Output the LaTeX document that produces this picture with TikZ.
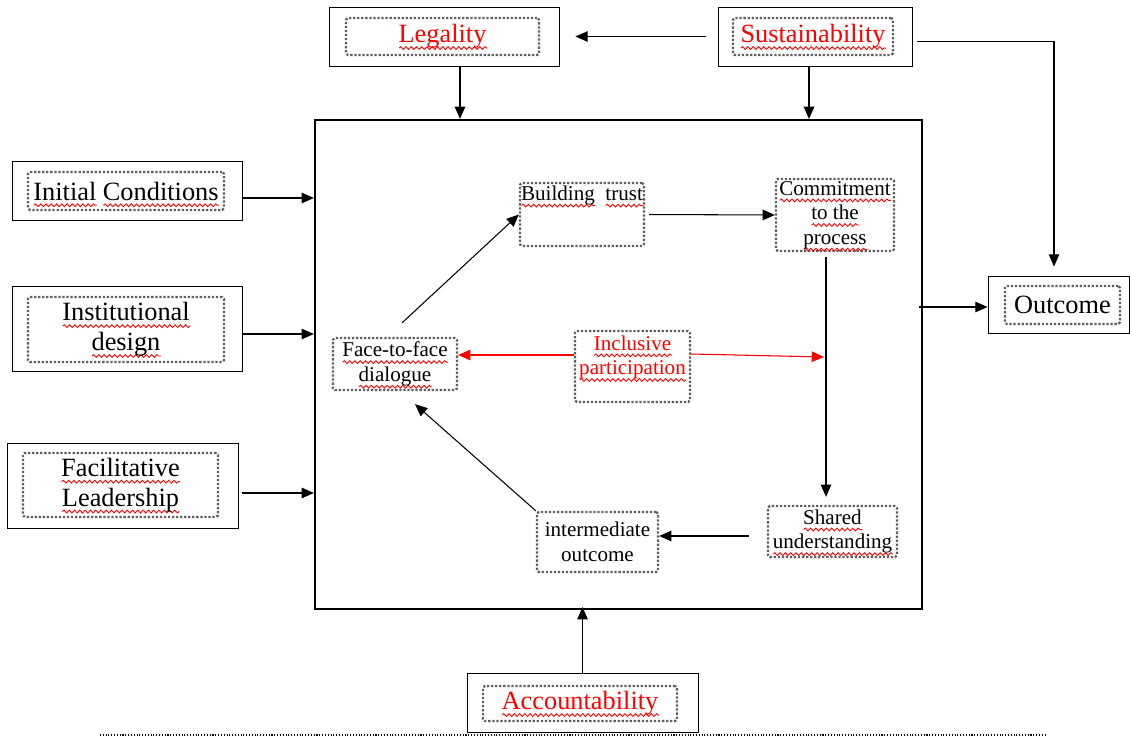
\documentclass[tikz,border=0pt]{standalone}
\usepackage{fontspec}
\setmainfont{Liberation Serif}
\usetikzlibrary{arrows.meta,decorations.pathmorphing}
\newsavebox{\sqbox}
\newlength{\sqlen}
\newcommand{\squig}[1]{\sbox{\sqbox}{#1}\setlength{\sqlen}{\wd\sqbox}%
  \leavevmode\rlap{\smash{\raisebox{-3pt}{\tikz[baseline=0pt,x=1pt,y=1pt]
  \draw[red,solid,sharp corners,line width=0.5pt,decorate,
  decoration={snake,amplitude=0.8pt,segment length=3pt}] (0,0) -- (\sqlen,0);}}}\usebox{\sqbox}}
\definecolor{wd_red}{RGB}{255, 0, 0}
\definecolor{wd_dot}{RGB}{95, 95, 95}
\tikzstyle{ob}=[rectangle,draw=black,line width=0.5pt,inner sep=0pt]
\tikzstyle{ib}=[rectangle,draw=wd_dot,densely dotted,line width=1.3pt,
  rounded corners=1pt,inner sep=0pt,align=center,font=\fontsize{15}{17}\selectfont]
\tikzstyle{sb}=[ib,font=\fontsize{12}{14}\selectfont]
\tikzstyle{tx}=[inner sep=2pt,align=center,font=\fontsize{12}{14}\selectfont]
\tikzstyle{ar}=[-{Triangle[length=7pt,width=6pt]},line width=0.6pt]

\begin{document}
\begin{tikzpicture}[x=0.02cm,y=-0.02cm]
        \useasboundingbox (0,0) rectangle (1130,736);
        % frame of the process
        \node [ob,line width=1.3pt,minimum width=12.14cm,minimum height=9.78cm] (big) at (618.5,364.5) {};
        % outside boxes
        \node [ob,minimum width=4.6cm,minimum height=1.18cm] (legal) at (444,36.5) {};
        \node [ib,minimum width=3.86cm,minimum height=0.74cm,text=wd_red] (legalin) at (442.5,36.5) {\squig{Legality}};
        \node [ob,minimum width=3.88cm,minimum height=1.18cm] (sust) at (815,36.5) {};
        \node [ib,minimum width=3.2cm,minimum height=0.74cm,text=wd_red] (sustin) at (813,36.5) {\squig{Sustainability}};
        \node [ob,minimum width=4.6cm,minimum height=1.18cm] (init) at (127,190.5) {};
        \node [ib,minimum width=3.92cm,minimum height=0.76cm] (initin) at (126,191) {\squig{Initial} \squig{Conditions}};
        \node [ob,minimum width=4.6cm,minimum height=1.7cm] (inst) at (127,328.5) {};
        \node [ib,minimum width=3.92cm,minimum height=1.3cm] (instin) at (126,329.5) {\squig{Institutional}\\\squig{design}};
        \node [ob,minimum width=4.62cm,minimum height=1.7cm] (facil) at (122.5,485.5) {};
        \node [ib,minimum width=3.9cm,minimum height=1.28cm] (facilin) at (120.5,485) {\squig{Facilitative}\\\squig{Leadership}};
        \node [ob,minimum width=2.82cm,minimum height=1.14cm] (outc) at (1058.5,304.5) {};
        \node [ib,minimum width=2.3cm,minimum height=0.76cm] (outcin) at (1062.5,305) {Outcome};
        \node [ob,minimum width=4.62cm,minimum height=1.18cm] (acct) at (582.5,702.5) {};
        \node [ib,minimum width=3.88cm,minimum height=0.7cm,text=wd_red] (acctin) at (580,703.5) {\squig{Accountability}};
        % inside boxes
        \node [sb,minimum width=2.48cm,minimum height=1.26cm] (bt) at (582,214.5) {};
        \node [tx,anchor=north] (bttxt) at (bt.north) {\squig{Building}\enspace\squig{trust}};
        \node [sb,minimum width=2.36cm,minimum height=1.44cm] (commit) at (835,215) {\squig{Commitment}\\\squig{to the}\\\squig{process}};
        \node [sb,minimum width=2.48cm,minimum height=1.04cm] (face) at (395,364) {\squig{Face-to-face}\\\squig{dialogue}};
        \node [sb,minimum width=2.3cm,minimum height=1.42cm] (incl) at (632.5,366.5) {};
        \node [tx,anchor=north,text=wd_red,inner sep=3pt] (incltxt) at (incl.north) {\squig{Inclusive}\\\squig{participation}};
        \node [sb,minimum width=2.58cm,minimum height=1.02cm] (shared) at (832.5,531.5) {\squig{Shared}\\\squig{understanding}};
        \node [sb,minimum width=2.42cm,minimum height=1.2cm] (inter) at (597.5,542) {intermediate\\outcome};
        \coordinate (ipend) at (824,357);
        % arrows outside
        \draw [ar,shorten <=0.24cm,shorten >=0.32cm] (sust) -- (legal);
        \draw [ar] ([xshift=0.32cm]legal.south) -- ([xshift=0.32cm]legal.south |- big.north);
        \draw [ar] ([xshift=-0.12cm]sust.south) -- ([xshift=-0.12cm]sust.south |- big.north);
        \draw [ar,shorten >=0.18cm] ([xshift=0.1cm,yshift=-0.1cm]sust.east) -| ([xshift=-0.09cm]outc.north);
        \draw [ar] ([yshift=-0.15cm]init.east) -- ([yshift=-0.15cm]init.east -| big.west);
        \draw [ar] ([yshift=-0.11cm]inst.east) -- ([yshift=-0.11cm]inst.east -| big.west);
        \draw [ar,shorten <=0.08cm] ([yshift=-0.15cm]facil.east) -- ([yshift=-0.15cm]facil.east -| big.west);
        \draw [ar,shorten <=-0.08cm] ([yshift=-0.05cm]outc.west -| big.east) -- ([yshift=-0.05cm]outc.west);
        \draw [ar,shorten >=-0.06cm] (acct.north) -- (acct.north |- big.south);
        % arrows inside
        \draw [ar,shorten <=0.08cm] (bt.east) -- (commit.west);
        \draw [ar,shorten <=0.1cm,shorten >=0.16cm] ([xshift=-0.18cm]commit.south) -- ([xshift=-0.18cm]commit.south |- shared.north);
        \draw [ar,shorten <=0.36cm] ([yshift=-0.09cm]shared.west) -- ([yshift=-0.09cm]shared.west -| inter.east);
        \draw [ar] (inter.north west) -- ([xshift=0.4cm,yshift=-0.26cm]face.south);
        \draw [ar] ([xshift=0.14cm,yshift=0.28cm]face.north) -- (bt.west);
        \draw [ar,draw=wd_red,fill=wd_red] ([yshift=0.23cm]incl.west) -- ([yshift=0.23cm]incl.west -| face.east);
        \draw [ar,draw=wd_red,fill=wd_red] ([yshift=0.25cm]incl.east) -- (ipend);
        % rule at the bottom
        \draw [densely dotted,line width=0.6pt] (100,735) -- (1047,735);
    \end{tikzpicture}
\end{document}
